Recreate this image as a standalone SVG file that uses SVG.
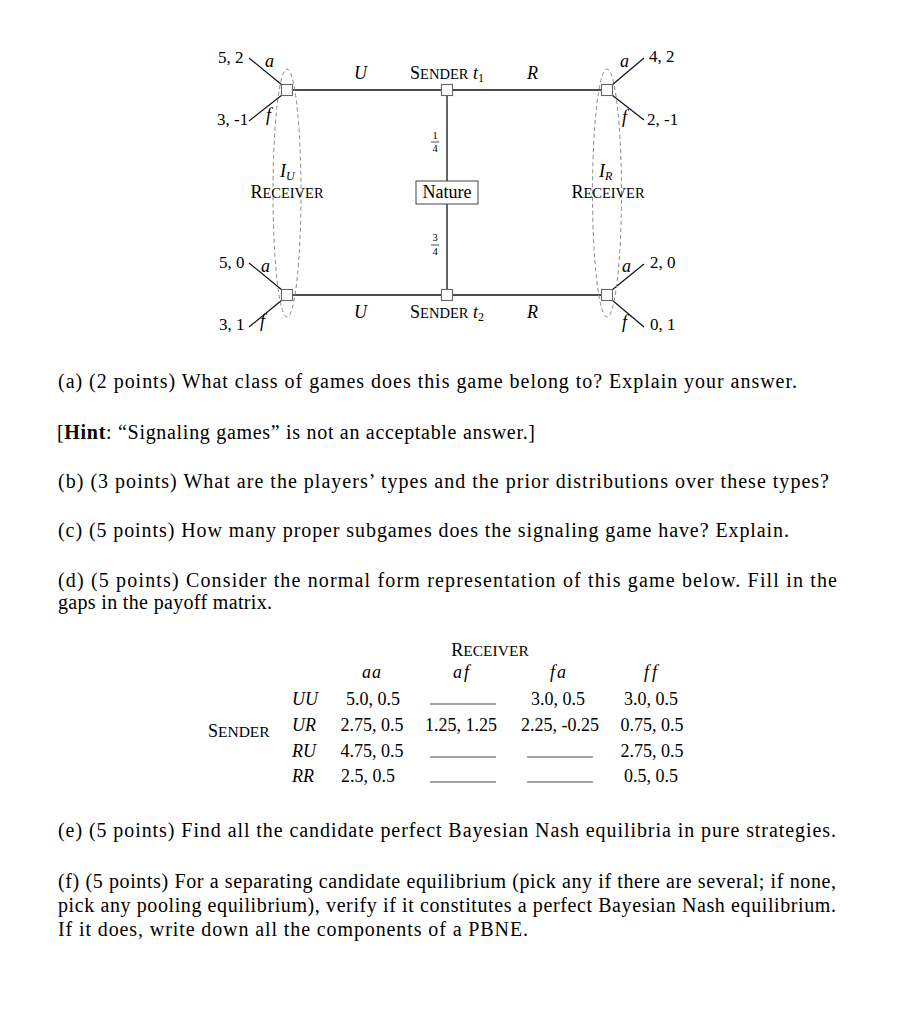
<svg xmlns="http://www.w3.org/2000/svg" width="906" height="1024" viewBox="0 0 906 1024">
<style>
text{font-family:"Liberation Serif","Times New Roman",serif;fill:#000;font-variant-ligatures:none}
.t{font-size:17px}
.n{font-size:18px}
.m{font-size:18px}
.p{font-size:20px}
.it{font-style:italic}
.sc{font-size:14.5px}
.msc{font-size:15.5px}
.fr{font-size:10.5px;text-anchor:middle}
.mid{text-anchor:middle}
.edge{stroke:#111;stroke-width:1.3;fill:none}
.br{stroke:#111;stroke-width:1.2;fill:none}
.node{fill:#fff;stroke:#666;stroke-width:1.1}
.info{fill:none;stroke:#888;stroke-width:1;stroke-dasharray:4 3}
.blank{stroke:#444;stroke-width:1}
</style>
<rect width="906" height="1024" fill="#fff"/>

<!-- connectors -->
<g id="connectors">
  <line class="edge" x1="287" y1="90" x2="607" y2="90"/>
  <line class="edge" x1="287" y1="295" x2="607" y2="295"/>
  <line class="edge" x1="447" y1="90" x2="447" y2="181"/>
  <line class="edge" x1="447" y1="204" x2="447" y2="295"/>
  <line class="br" x1="282" y1="85" x2="249" y2="58"/>
  <line class="br" x1="282" y1="95" x2="249" y2="121"/>
  <line class="br" x1="612" y1="85" x2="644" y2="58"/>
  <line class="br" x1="612" y1="95" x2="644" y2="120"/>
  <line class="br" x1="282" y1="290" x2="249" y2="263"/>
  <line class="br" x1="282" y1="300" x2="249" y2="327"/>
  <line class="br" x1="612" y1="290" x2="644" y2="264"/>
  <line class="br" x1="612" y1="300" x2="644" y2="327"/>
</g>

<!-- information sets -->
<g id="infoset-IU">
  <ellipse class="info" cx="287" cy="193" rx="14" ry="124"/>
  <text class="n it" x="280" y="177">I<tspan font-size="12" dy="3">U</tspan></text>
  <text class="n mid" x="287" y="198">R<tspan class="sc">ECEIVER</tspan></text>
</g>
<g id="infoset-IR">
  <ellipse class="info" cx="607" cy="193" rx="14.5" ry="124"/>
  <text class="n it" x="599" y="177">I<tspan font-size="12" dy="3">R</tspan></text>
  <text class="n mid" x="608" y="198">R<tspan class="sc">ECEIVER</tspan></text>
</g>

<!-- nodes -->
<g id="node-nature">
  <rect x="416" y="181" width="62" height="23" fill="#fff" stroke="#444" stroke-width="1"/>
  <text class="n mid" x="447" y="198">Nature</text>
</g>
<g id="node-sender-t1">
  <rect class="node" x="441.5" y="84.5" width="11" height="11"/>
  <text class="n mid" x="447" y="79">S<tspan class="sc">ENDER</tspan> <tspan class="it">t</tspan><tspan font-size="12" dy="3">1</tspan></text>
</g>
<g id="node-sender-t2">
  <rect class="node" x="441.5" y="289.5" width="11" height="11"/>
  <text class="n mid" x="447" y="318">S<tspan class="sc">ENDER</tspan> <tspan class="it">t</tspan><tspan font-size="12" dy="3">2</tspan></text>
</g>
<g id="node-recv-UL-top">
  <rect class="node" x="281.5" y="84.5" width="11" height="11"/>
</g>
<g id="node-recv-UL-bottom">
  <rect class="node" x="281.5" y="289.5" width="11" height="11"/>
</g>
<g id="node-recv-R-top">
  <rect class="node" x="601.5" y="84.5" width="11" height="11"/>
</g>
<g id="node-recv-R-bottom">
  <rect class="node" x="601.5" y="289.5" width="11" height="11"/>
</g>

<!-- edge labels -->
<g id="labels">
  <text class="n it" x="354" y="79">U</text>
  <text class="n it" x="527" y="79">R</text>
  <text class="n it" x="354" y="318">U</text>
  <text class="n it" x="527" y="318">R</text>
  <text class="fr" x="435" y="139">1</text>
  <line x1="431" y1="142" x2="439" y2="142" stroke="#000" stroke-width="0.7"/>
  <text class="fr" x="435" y="152">4</text>
  <text class="fr" x="435" y="241">3</text>
  <line x1="431" y1="245" x2="439" y2="245" stroke="#000" stroke-width="0.7"/>
  <text class="fr" x="435" y="255">4</text>
  <text class="n it" x="265" y="67">a</text>
  <text class="n it" x="266" y="121">f</text>
  <text class="n it" x="620" y="67">a</text>
  <text class="n it" x="622" y="123">f</text>
  <text class="n it" x="261" y="272">a</text>
  <text class="n it" x="260" y="327">f</text>
  <text class="n it" x="622" y="272">a</text>
  <text class="n it" x="622" y="328">f</text>
</g>

<!-- payoffs -->
<g id="payoffs">
  <text class="t" x="218" y="63">5, 2</text>
  <text class="t" x="217" y="125">3, -1</text>
  <text class="t" x="649" y="62">4, 2</text>
  <text class="t" x="647" y="125">2, -1</text>
  <text class="t" x="219" y="268">5, 0</text>
  <text class="t" x="219" y="330">3, 1</text>
  <text class="t" x="650" y="268">2, 0</text>
  <text class="t" x="650" y="330">0, 1</text>
</g>

<!-- questions -->
<g id="questions">
  <text class="p" x="58" y="388" textLength="739" lengthAdjust="spacing">(a) (2 points) What class of games does this game belong to? Explain your answer.</text>
  <text class="p" x="57" y="439" textLength="478" lengthAdjust="spacing">[<tspan font-weight="bold">Hint</tspan>: “Signaling games” is not an acceptable answer.]</text>
  <text class="p" x="58" y="488" textLength="771" lengthAdjust="spacing">(b) (3 points) What are the players’ types and the prior distributions over these types?</text>
  <text class="p" x="58" y="537" textLength="731" lengthAdjust="spacing">(c) (5 points) How many proper subgames does the signaling game have? Explain.</text>
  <text class="p" x="58" y="587" textLength="779" lengthAdjust="spacing">(d) (5 points) Consider the normal form representation of this game below. Fill in the</text>
  <text class="p" x="58" y="609" textLength="214" lengthAdjust="spacing">gaps in the payoff matrix.</text>
  <text class="p" x="58" y="837" textLength="778" lengthAdjust="spacing">(e) (5 points) Find all the candidate perfect Bayesian Nash equilibria in pure strategies.</text>
  <text class="p" x="58" y="888" textLength="778" lengthAdjust="spacing">(f) (5 points) For a separating candidate equilibrium (pick any if there are several; if none,</text>
  <text class="p" x="58" y="912" textLength="778" lengthAdjust="spacing">pick any pooling equilibrium), verify if it constitutes a perfect Bayesian Nash equilibrium.</text>
  <text class="p" x="58" y="936" textLength="470" lengthAdjust="spacing">If it does, write down all the components of a PBNE.</text>
</g>

<!-- payoff matrix -->
<g id="matrix">
  <text class="m mid" x="490" y="656" font-size="19">R<tspan class="msc">ECEIVER</tspan></text>
  <text class="m it mid" x="372" y="678" letter-spacing="1">aa</text>
  <text class="m it mid" x="462" y="678" letter-spacing="2">af</text>
  <text class="m it mid" x="559" y="678" letter-spacing="2">fa</text>
  <text class="m it mid" x="652" y="678" letter-spacing="3">ff</text>
  <text class="m" x="208" y="737" font-size="19">S<tspan class="msc">ENDER</tspan></text>
  <text class="m it" x="292" y="705">UU</text>
  <text class="m it" x="292" y="731">UR</text>
  <text class="m it" x="292" y="757">RU</text>
  <text class="m it" x="292" y="782">RR</text>
  <text class="m mid" x="373" y="705">5.0, 0.5</text>
  <line class="blank" x1="430" y1="704" x2="496" y2="704"/>
  <text class="m mid" x="558" y="705">3.0, 0.5</text>
  <text class="m mid" x="651" y="705">3.0, 0.5</text>
  <text class="m mid" x="372" y="731">2.75, 0.5</text>
  <text class="m mid" x="461" y="731">1.25, 1.25</text>
  <text class="m mid" x="560" y="731">2.25, -0.25</text>
  <text class="m mid" x="652" y="731">0.75, 0.5</text>
  <text class="m mid" x="372" y="757">4.75, 0.5</text>
  <line class="blank" x1="430" y1="757" x2="496" y2="757"/>
  <line class="blank" x1="527" y1="757" x2="593" y2="757"/>
  <text class="m mid" x="652" y="757">2.75, 0.5</text>
  <text class="m mid" x="368" y="782">2.5, 0.5</text>
  <line class="blank" x1="430" y1="782" x2="496" y2="782"/>
  <line class="blank" x1="527" y1="782" x2="593" y2="782"/>
  <text class="m mid" x="651" y="782">0.5, 0.5</text>
</g>
</svg>
